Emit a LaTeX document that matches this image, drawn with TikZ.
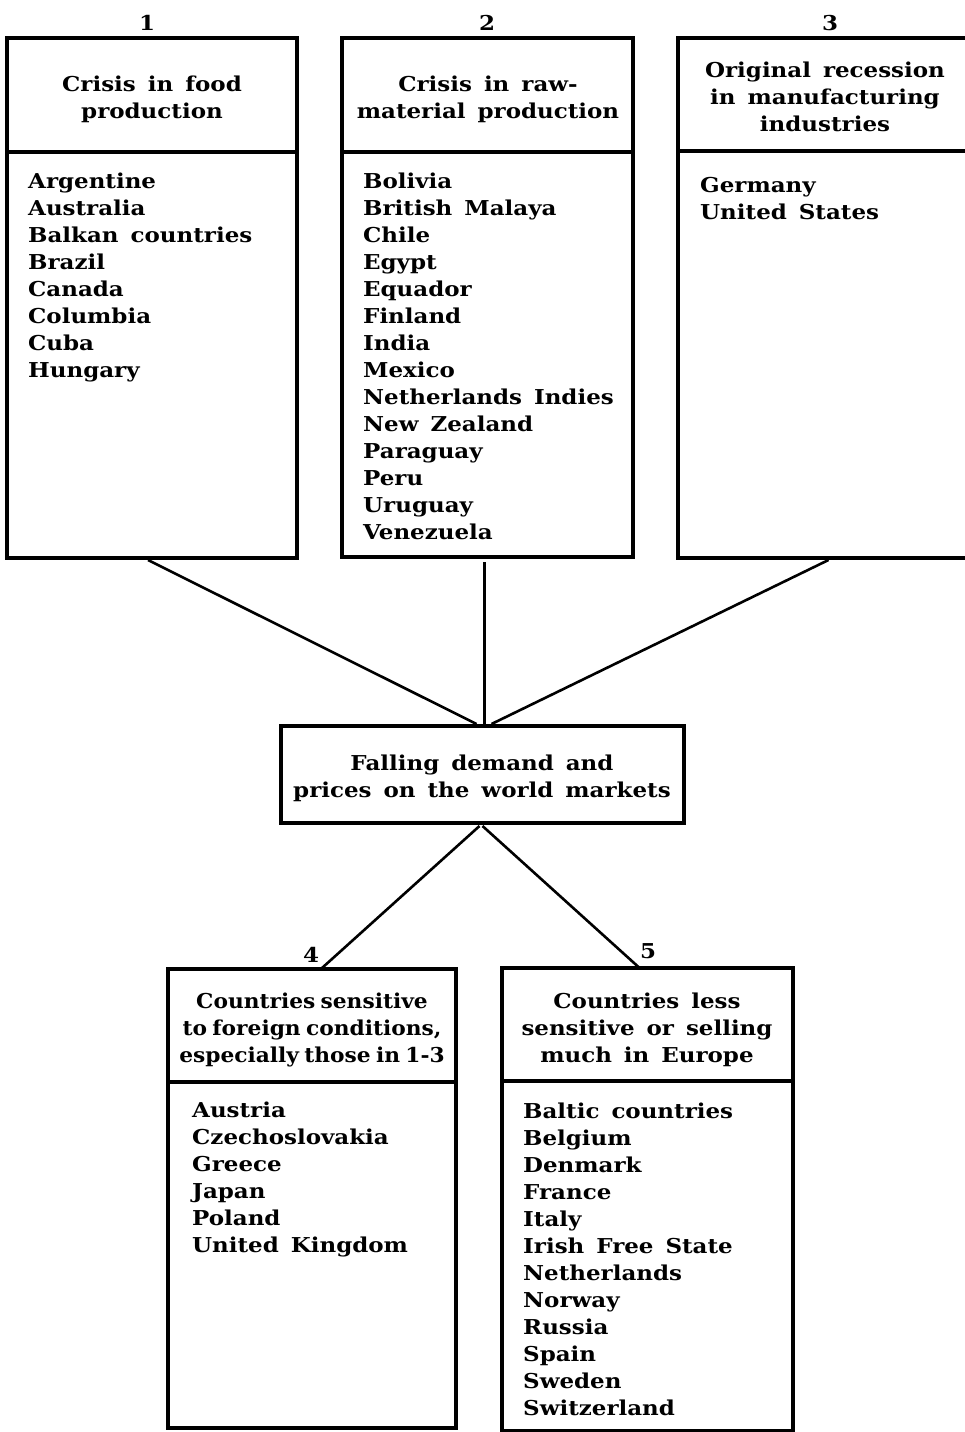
\documentclass[tikz,border=0pt]{standalone}
\usepackage{fontspec}
\setmainfont{DejaVu Serif}[FakeStretch=1.12, WordSpace=1.5]
\newfontfamily\tightfont{DejaVu Serif}[FakeStretch=1.06, WordSpace=0.7]
\usetikzlibrary{calc}
\newcommand{\lf}{\bfseries\fontsize{20.5}{27}\selectfont}
\newcommand{\tf}{\tightfont\bfseries\fontsize{20.5}{27}\selectfont}
\tikzset{
  box/.style={draw, line width=3.2pt, rectangle, inner sep=0pt, outer sep=0pt, anchor=north west},
  conn/.style={line width=2.6pt},
  divider/.style={line width=3.2pt},
  lst/.style={anchor=north west, align=left, inner sep=0pt, font=\lf, yshift=18.9pt},
  hdr/.style={anchor=north, align=center, inner sep=0pt, font=\lf, yshift=18.9pt},
  num/.style={anchor=base, inner sep=0pt, font=\lf},
}
\begin{document}
\begin{tikzpicture}[x=1pt,y=-1pt]
\useasboundingbox (0,0) rectangle (965,1432);
\fill[white] (0,0) rectangle (965,1432);
% boxes
\node[box, minimum width=290pt, minimum height=520pt] (b1) at (7,38) {};
\node[box, minimum width=291pt, minimum height=519pt] (b2) at (342,38) {};
\node[box, minimum width=307pt, minimum height=520pt] (b3) at (678,38) {};
\node[box, minimum width=403pt, minimum height=97pt] (fall) at (281,726) {};
\node[box, minimum width=288pt, minimum height=459pt] (b4) at (168,969) {};
\node[box, minimum width=291pt, minimum height=463pt] (b5) at (502,968) {};
% dividers
\coordinate (d1) at (7,152);
\coordinate (d2) at (342,152);
\coordinate (d3) at (678,151);
\coordinate (d4) at (168,1082);
\coordinate (d5) at (502,1081);
\draw[divider] (d1) -- (d1 -| b1.east);
\draw[divider] (d2) -- (d2 -| b2.east);
\draw[divider] (d3) -- (d3 -| b3.east);
\draw[divider] (d4) -- (d4 -| b4.east);
\draw[divider] (d5) -- (d5 -| b5.east);
% numbers
\node[num] (n1) at (147,30) {1};
\node[num] (n2) at (487,30) {2};
\node[num] (n3) at (830,30) {3};
\node[num] (n4) at (311,962) {4};
\node[num] (n5) at (648,958) {5};
% headers
\node[hdr] (h1) at (152,91) {\strut Crisis in food\\\strut production};
\node[hdr] (h2) at (488,91) {\strut Crisis in raw-\\\strut material production};
\node[hdr] (h3) at (825,77) {\strut Original recession\\\strut in manufacturing\\\strut industries};
\node[hdr] (hf) at (482,770) {\strut Falling demand and\\\strut prices on the world markets};
\node[hdr, font=\tf] (h4) at (312,1008) {\strut Countries sensitive\\\strut to foreign conditions,\\\strut especially those in 1-3};
\node[hdr] (h5) at (647,1008) {\strut Countries less\\\strut sensitive or selling\\\strut much in Europe};
% lists
\node[lst] (l1) at (28,188) {\strut Argentine\\\strut Australia\\\strut Balkan countries\\\strut Brazil\\\strut Canada\\\strut Columbia\\\strut Cuba\\\strut Hungary};
\node[lst] (l2) at (363,188) {\strut Bolivia\\\strut British Malaya\\\strut Chile\\\strut Egypt\\\strut Equador\\\strut Finland\\\strut India\\\strut Mexico\\\strut Netherlands Indies\\\strut New Zealand\\\strut Paraguay\\\strut Peru\\\strut Uruguay\\\strut Venezuela};
\node[lst] (l3) at (700,192) {\strut Germany\\\strut United States};
\node[lst] (l4) at (192,1117) {\strut Austria\\\strut Czechoslovakia\\\strut Greece\\\strut Japan\\\strut Poland\\\strut United Kingdom};
\node[lst] (l5) at (523,1118) {\strut Baltic countries\\\strut Belgium\\\strut Denmark\\\strut France\\\strut Italy\\\strut Irish Free State\\\strut Netherlands\\\strut Norway\\\strut Russia\\\strut Spain\\\strut Sweden\\\strut Switzerland};
% connectors
\draw[conn] ($(b1.south)+(-4,2)$) -- ($(fall.north)+(-6,-2)$);
\draw[conn] ($(b2.south)+(-3,5)$) -- ($(fall.north)+(2,-2)$);
\draw[conn] ($(b3.south)+(-3,2)$) -- ($(fall.north)+(9,-2)$);
\draw[conn] ($(fall.south)+(-3,3)$) -- ($(b4.north)+(10,-1)$);
\draw[conn] ($(fall.south)+(0,3)$) -- ($(b5.north)+(-9,-1)$);
\end{tikzpicture}
\end{document}
